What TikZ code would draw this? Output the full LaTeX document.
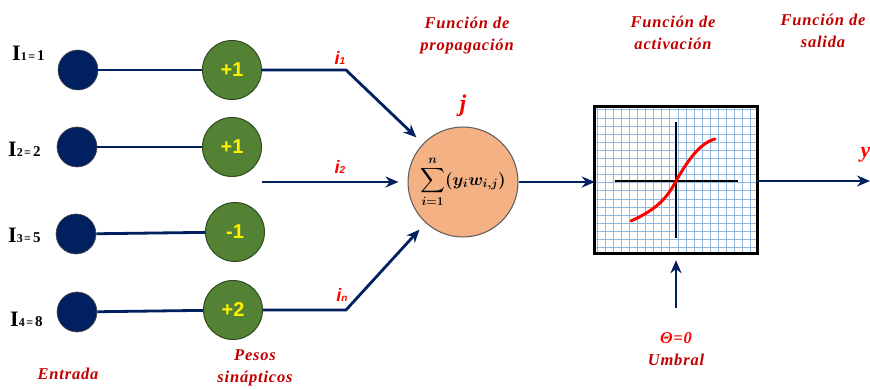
\documentclass[tikz,border=0pt]{standalone}
\usepackage{amsmath}
\usepackage{fontspec}
\setmainfont{Liberation Serif}
\newfontfamily\sansf{Liberation Sans}
\newfontfamily\titlef[LetterSpace=5]{Liberation Serif}
\usetikzlibrary{arrows.meta}
\definecolor{navy}{HTML}{002060}
\definecolor{wgreen}{HTML}{548235}
\definecolor{wedge}{HTML}{2E4A1E}
\definecolor{sumfill}{HTML}{F4B183}
\definecolor{darkred}{HTML}{C00000}
\definecolor{brightred}{HTML}{FF0000}
\definecolor{gridblue}{HTML}{8DB8E2}
\newcommand\fsz[2]{\fontsize{#1}{#2}\selectfont}
\newcommand\inlabel[2]{{\fsz{22}{22}I}{\fsz{12}{12}#1\hspace{1.5pt}=\hspace{2pt}}{\fsz{15}{15}#2}}
\newcommand\ilabel[1]{{\fsz{18}{18}i}{\fsz{10}{10}#1}}
\newsavebox\sumbox
\begin{document}
\sbox\sumbox{\fsz{17}{17}\boldmath$\displaystyle\sum_{i=1}^{n}(y_i w_{i,j})$}%
\begin{tikzpicture}[x=1pt,y=-1pt,
  innode/.style={circle,fill=navy,draw=black!70,line width=0.6pt,minimum size=40pt,inner sep=0pt},
  wnode/.style={circle,fill=wgreen,draw=wedge,line width=1pt,minimum size=59pt,inner sep=0pt,
     text=yellow,font=\sansf\bfseries\fsz{20}{20}},
  sumnode/.style={circle,fill=sumfill,draw=black!65,line width=1pt,minimum size=110pt,inner sep=0pt},
  conn/.style={navy,line width=2.8pt},
  arr/.style={navy,line width=2.8pt,-{Stealth[length=13pt,width=11pt]}},
  ttl/.style={darkred,font=\titlef\bfseries\itshape\fsz{16.5}{22},align=center},
  inlbl/.style={font=\bfseries,anchor=base west,inner sep=0pt},
  ilbl/.style={brightred,font=\sansf\bfseries\itshape,anchor=base,inner sep=0pt}
]
\useasboundingbox (0,0) rectangle (870,390);

% input nodes
\node[innode] (in1) at (78,70) {};
\node[innode] (in2) at (77,147) {};
\node[innode] (in3) at (76,234) {};
\node[innode] (in4) at (77,312) {};

% weights
\node[wnode] (w1) at (232,70) {+1};
\node[wnode] (w2) at (232,147) {+1};
\node[wnode] (w3) at (235,232) {-1};
\node[wnode] (w4) at (233,310) {+2};

% input labels
\node[inlbl] (l1) at (12,61) {\inlabel{1}{1}};
\node[inlbl] (l2) at (8,157) {\inlabel{2}{2}};
\node[inlbl] (l3) at (8,242) {\inlabel{3}{5}};
\node[inlbl] (l4) at (10,326) {\inlabel{4}{8}};

% input to weight connectors
\draw[conn] (in1) -- (w1);
\draw[conn] (in2) -- (w2);
\draw[conn] (in3) -- (w3);
\draw[conn] (in4) -- (w4);

% summation node
\node[sumnode] (sumc) at (463,182) {\usebox\sumbox};
\node[brightred,font=\bfseries\itshape\fsz{24}{24}] (jl) at (463,106) {j};

\coordinate (b1) at (346,70);
\coordinate (s2) at (262,182);
\coordinate (b4) at (346,310);

\draw[arr,shorten >=9pt] (w1.east) -- (b1) -- (sumc);
\draw[arr,shorten >=9pt] (s2) -- (sumc.west);
\draw[arr,shorten >=9pt] (w4.east) -- (b4) -- (sumc);

\node[ilbl] (i1) at (340,65) {\ilabel{1}};
\node[ilbl] (i2) at (340,174) {\ilabel{2}};
\node[ilbl] (inl) at (342,301) {\ilabel{n}};

% activation box
\node[rectangle,minimum width=162pt,minimum height=146pt,inner sep=0pt] (act) at (676,180) {};
\begin{scope}
  \clip (act.south west) rectangle (act.north east);
  \fill[white] (act.south west) rectangle (act.north east);
  \foreach \k in {0,...,20} {
    \draw[gridblue,line width=1pt] (597+8.1*\k,100) -- (597+8.1*\k,260);
  }
  \foreach \k in {0,...,19} {
    \draw[gridblue,line width=1pt] (590,110+8.1*\k) -- (760,110+8.1*\k);
  }
\end{scope}
\draw[black,line width=3pt] (act.south west) rectangle (act.north east);
\draw[black,line width=2pt] (615,181) -- (738,181);
\draw[black,line width=2pt] (676,122) -- (676,238);
\draw[red,line width=3pt,line cap=round] (631,221) .. controls (655,210) and (666,200) .. (676,181) .. controls (688,160) and (700,143) .. (715,139);

\draw[arr] (sumc.east) -- (act.west |- sumc.east);
\coordinate (outend) at (870,181);
\draw[arr] (act.east |- outend) -- (outend);
\node[brightred,font=\bfseries\itshape\fsz{22}{22},anchor=west] (yl) at (857,155) {y};

\coordinate (th) at (676,308);
\draw[arr,shorten >=7pt] (th) -- (act.south);

% titles
\node[ttl] (t1) at (467,36) {Función de\\propagación};
\node[ttl] (t2) at (673,33) {Función de\\activación};
\node[ttl] (t3) at (823,31) {Función de\\salida};
\node[ttl] (t4) at (68,374) {Entrada};
\node[ttl] (t5) at (255,368) {Pesos\\sinápticos};
\node[ttl] (t6) at (676,349) {\textcolor{brightred}{Θ=0}\\Umbral};
\end{tikzpicture}
\end{document}
